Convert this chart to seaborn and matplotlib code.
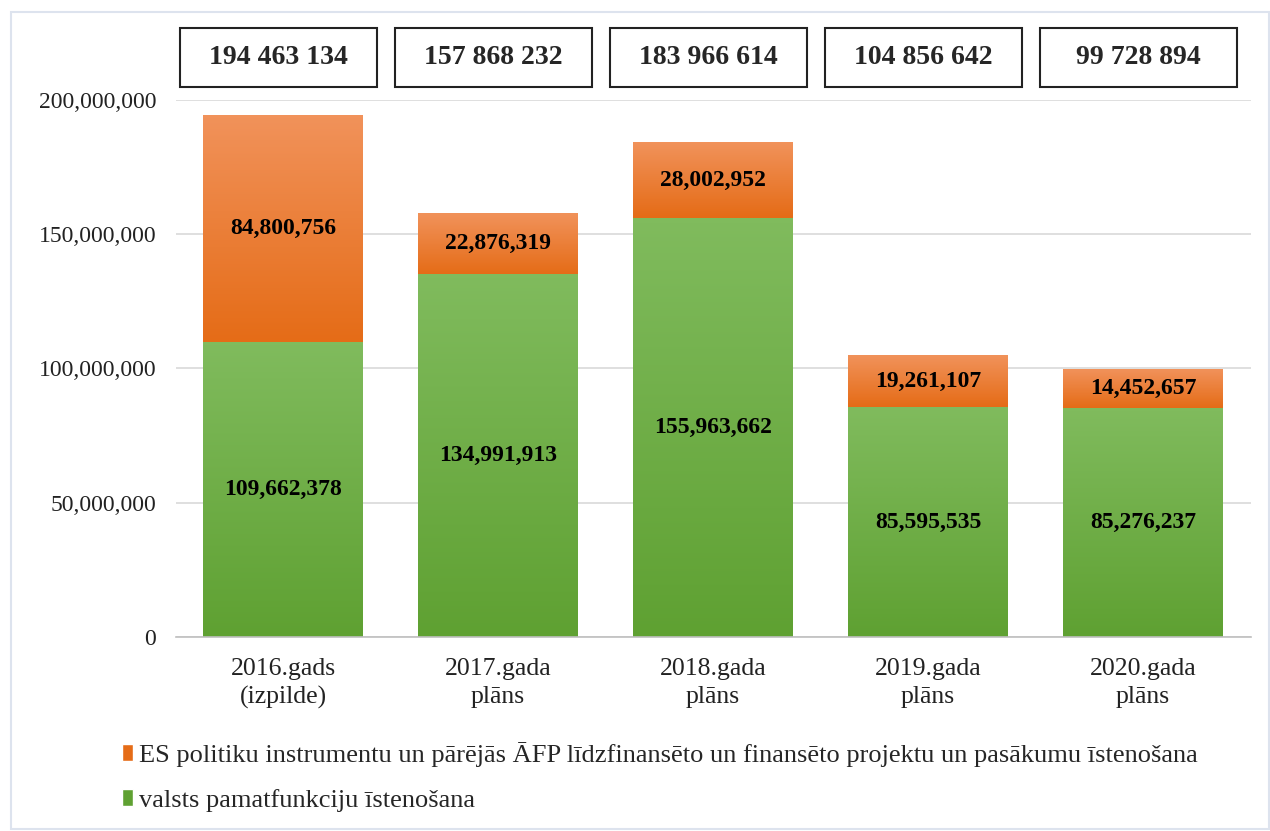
import numpy as np
import pandas as pd
import matplotlib.pyplot as plt
import seaborn as sns
from matplotlib.patches import Rectangle, Patch
from matplotlib.colors import LinearSegmentedColormap
from matplotlib.ticker import FuncFormatter
import matplotlib.transforms as mtransforms

# -----------------------------------------------------------
# Data
# -----------------------------------------------------------
categories = ["2016.gads\n(izpilde)", "2017.gada\nplāns", "2018.gada\nplāns",
              "2019.gada\nplāns", "2020.gada\nplāns"]
valsts = [109662378, 134991913, 155963662, 85595535, 85276237]
es_proj = [84800756, 22876319, 28002952, 19261107, 14452657]
label_es = "ES politiku instrumentu un pārējās ĀFP līdzfinansēto un finansēto projektu un pasākumu īstenošana"
label_valsts = "valsts pamatfunkciju īstenošana"

df = pd.DataFrame({"cat": categories, "valsts": valsts, "es": es_proj})
df["total"] = df["valsts"] + df["es"]

# -----------------------------------------------------------
# Style
# -----------------------------------------------------------
sns.set_theme(style="white")
plt.rcParams["font.family"] = ["Liberation Serif", "DejaVu Serif"]

orange_top, orange_bot = "#F1925A", "#E56C17"
green_top, green_bot = "#80BB5D", "#5FA132"

fig = plt.figure(figsize=(12.7, 8.31), dpi=100)
ax = fig.add_axes([0.1382, 0.2335, 0.8465, 0.6462])

# stacked bars: totals (orange) behind, green in front
sns.barplot(data=df, x="cat", y="total", color=orange_bot, width=0.744,
            saturation=1, ax=ax)
sns.barplot(data=df, x="cat", y="valsts", color=green_bot, width=0.744,
            saturation=1, ax=ax)

# vertical gradients inside each segment (light at top, darker at bottom)
n = len(categories)
grad = np.linspace(0, 1, 64).reshape(-1, 1)
cm_or = LinearSegmentedColormap.from_list("or", [orange_top, orange_bot])
cm_gr = LinearSegmentedColormap.from_list("gr", [green_top, green_bot])
for i, p in enumerate(list(ax.patches)):
    x0, w = p.get_x(), p.get_width()
    if i < n:
        y0, y1 = df["valsts"][i], df["total"][i]
        cm = cm_or
    else:
        y0, y1 = 0, p.get_height()
        cm = cm_gr
    # row 0 (light) goes to the top of the segment
    ax.imshow(grad, cmap=cm, aspect="auto", extent=(x0, x0 + w, y0, y1),
              origin="upper", zorder=2, interpolation="bilinear")
    p.set_alpha(0)
ax.set_xlim(-0.5, 4.5)
ax.set_ylim(0, 200_000_000)

# segment labels
for i in range(n):
    v, e = df["valsts"][i], df["es"][i]
    ax.text(i, v / 2, f"{v:,}", ha="center", va="center", fontsize=17,
            fontweight="bold", color="black", zorder=3)
    ax.text(i, v + e / 2, f"{e:,}", ha="center", va="center", fontsize=17,
            fontweight="bold", color="black", zorder=3)

# total boxes above the plot
trans = mtransforms.blended_transform_factory(ax.transData, ax.transAxes)
for i in range(n):
    t = df["total"][i]
    ax.add_patch(Rectangle((i - 0.478, 1.024), 0.915, 0.11, transform=trans,
                           facecolor="white", edgecolor="#222222", lw=1.5,
                           clip_on=False))
    ax.text(i - 0.02, 1.079, f"{t:,}".replace(",", " "), transform=trans,
            ha="center", va="center", fontsize=20, fontweight="bold")

# axes cosmetics
ax.yaxis.set_major_formatter(FuncFormatter(lambda v, _: f"{int(v):,}"))
ax.set_yticks([0, 50_000_000, 100_000_000, 150_000_000, 200_000_000])
ax.grid(axis="y", color="#d9d9d9", lw=1.2, zorder=0)
ax.set_axisbelow(True)
for s in ["top", "right", "left"]:
    ax.spines[s].set_visible(False)
ax.spines["bottom"].set_color("#bfbfbf")
ax.spines["bottom"].set_linewidth(1.2)
ax.tick_params(axis="both", length=0, colors="#222222")
ax.tick_params(axis="y", pad=14, labelsize=17)
ax.tick_params(axis="x", pad=15, labelsize=18.5)
for lbl in ax.get_xticklabels():
    lbl.set_linespacing(1.35)
ax.set_xlabel("")
ax.set_ylabel("")

# legend
handles = [Patch(facecolor=orange_bot, label=label_es),
           Patch(facecolor=green_bot, label=label_valsts)]
fig.legend(handles=handles, loc="upper left", bbox_to_anchor=(0.077, 0.136),
           frameon=False, fontsize=19, handlelength=0.45, handleheight=0.6,
           handletextpad=0.2, labelspacing=0.85)

# light outer frame
fig.patches.append(Rectangle((0.009, 0.003), 0.99, 0.982, transform=fig.transFigure,
                             fill=False, edgecolor="#dde3ee", lw=1.5))

fig.savefig("out.png", dpi=100)
